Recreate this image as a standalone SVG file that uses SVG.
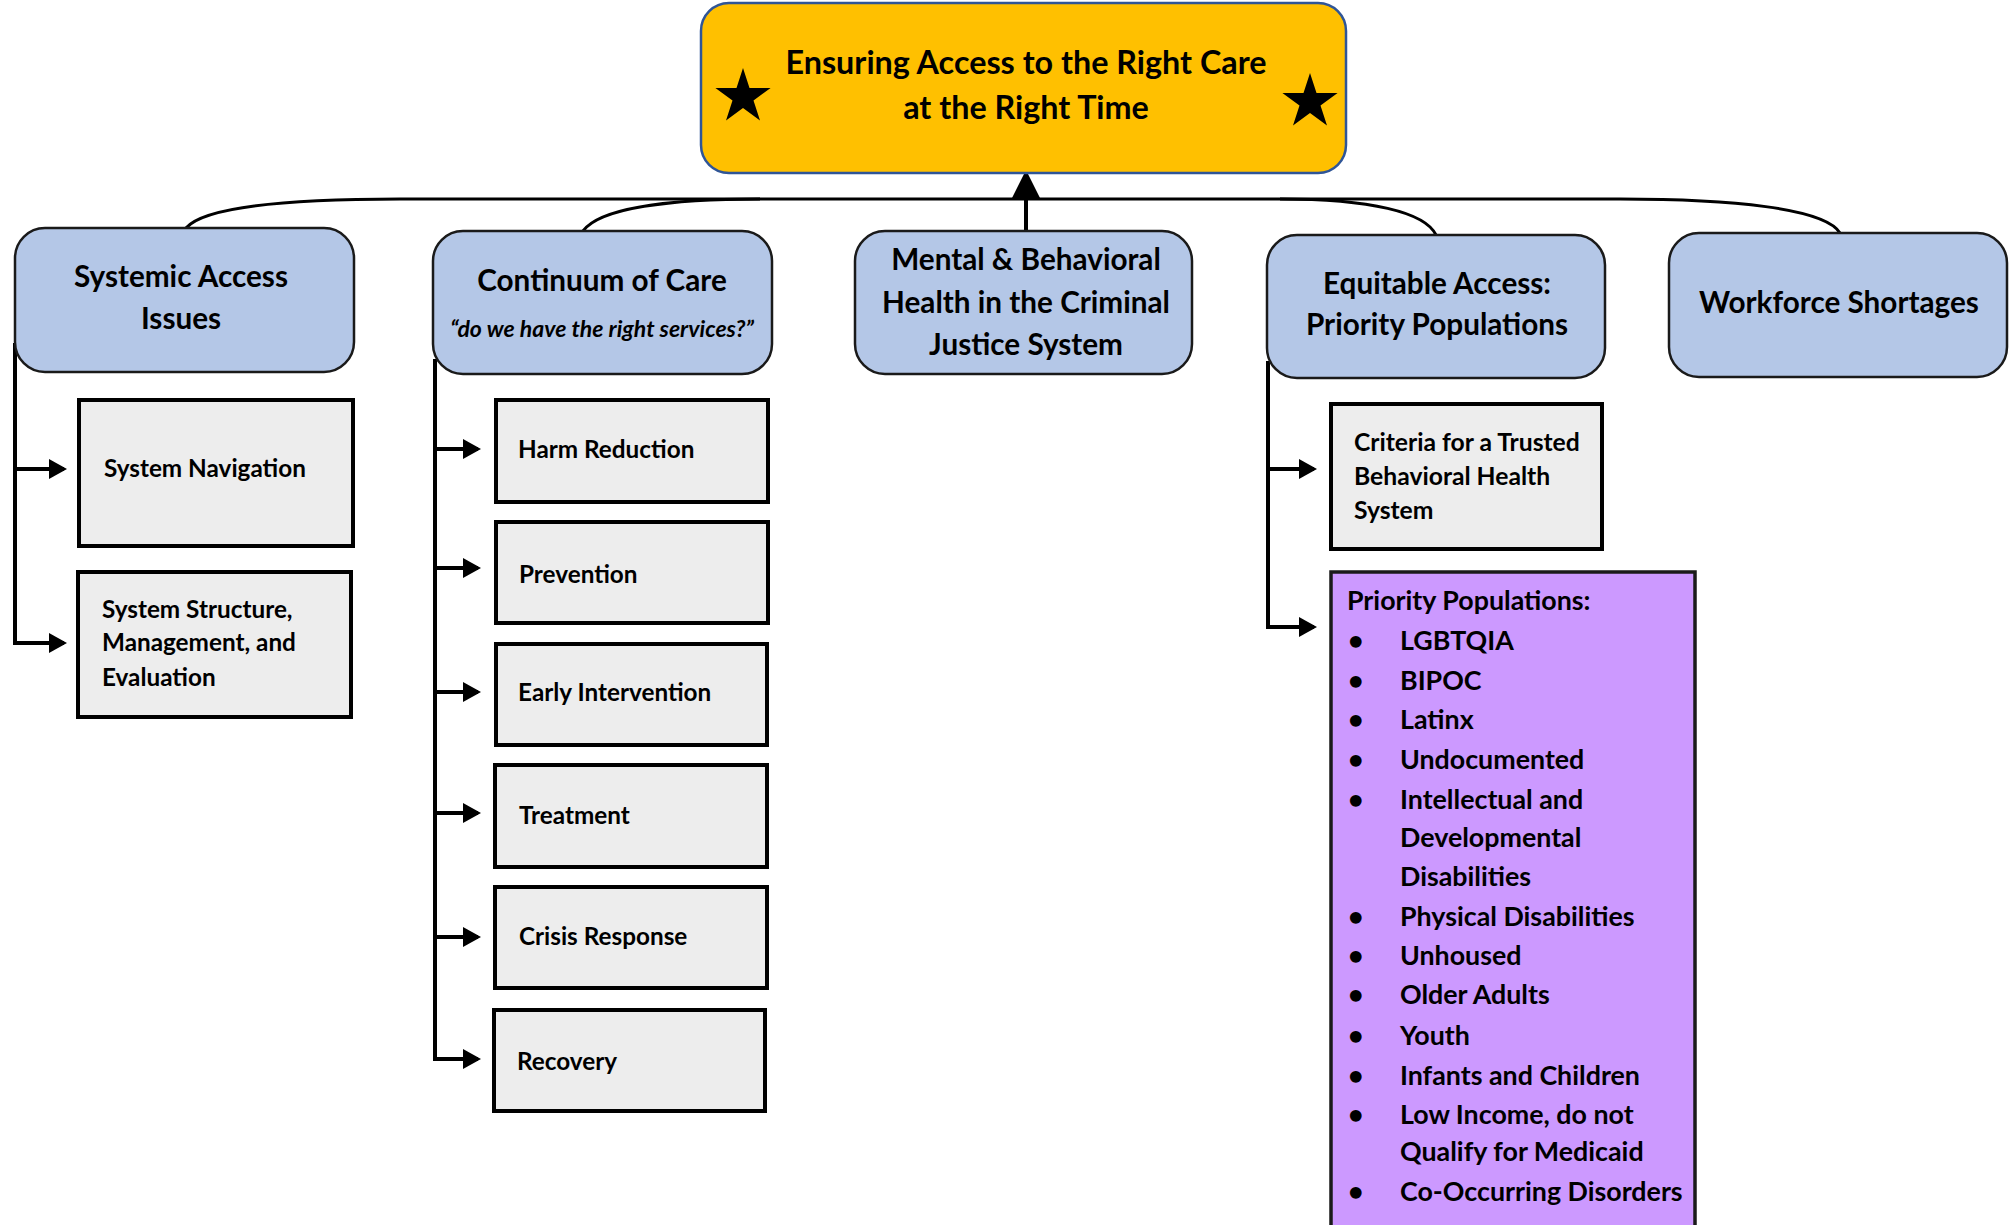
<svg xmlns="http://www.w3.org/2000/svg" width="2010" height="1225" viewBox="0 0 2010 1225">
<defs>
<style>
.t{font-family:Lato,"Liberation Sans",sans-serif;font-weight:bold;fill:#000}
.title{font-size:32.3px;text-anchor:middle}
.head{font-size:29.7px;text-anchor:middle}
.sub{font-size:23px;font-style:italic;text-anchor:middle}
.item{font-size:24.3px}
.crit{font-size:24.7px}
.pp{font-size:26.8px}
.l2{fill:#B4C7E7;stroke:#1a1a1a;stroke-width:2.5}
.box{fill:#EDEDED;stroke:#000;stroke-width:4}
.purple{fill:#CC99FF;stroke:#1a1a1a;stroke-width:3.5}
.conn{fill:none;stroke:#000;stroke-width:3}
.br{fill:none;stroke:#000;stroke-width:4}
</style>
<marker id="ah" markerUnits="userSpaceOnUse" markerWidth="18" markerHeight="20" refX="15" refY="10" orient="auto">
<path d="M0,0 L18,10 L0,20 z" fill="#000"/>
</marker>
<marker id="ahTop" markerUnits="userSpaceOnUse" markerWidth="28" markerHeight="30" refX="24" refY="14" orient="auto">
<path d="M0,0 L28,14 L0,28 z" fill="#000"/>
</marker>
<path id="star" d="M0,-29 L6.5,-9 L27.6,-9 L10.5,3.4 L17,23.5 L0,11.1 L-17,23.5 L-10.5,3.4 L-27.6,-9 L-6.5,-9 z"/>
</defs>
<rect width="2010" height="1225" fill="#fff"/>

<g id="connectors">
<path class="conn" d="M186,228 C205,206 290,199 400,199 L1620,199 C1730,199 1825,208 1840,233"/>
<path class="conn" d="M583,231 C600,208 670,199 760,199"/>
<path class="conn" d="M1280,199 C1370,199 1425,212 1436,235"/>
<path class="br" d="M1026,231 L1026,174" marker-end="url(#ahTop)"/>
<path class="br" d="M15,343 L15,643 L64,643" marker-end="url(#ah)"/>
<path class="br" d="M15,469 L64,469" marker-end="url(#ah)"/>
<path class="br" d="M435,359 L435,1059 L478,1059" marker-end="url(#ah)"/>
<path class="br" d="M435,449 L478,449" marker-end="url(#ah)"/>
<path class="br" d="M435,568 L478,568" marker-end="url(#ah)"/>
<path class="br" d="M435,692 L478,692" marker-end="url(#ah)"/>
<path class="br" d="M435,813 L478,813" marker-end="url(#ah)"/>
<path class="br" d="M435,937 L478,937" marker-end="url(#ah)"/>
<path class="br" d="M1268,361 L1268,627 L1314,627" marker-end="url(#ah)"/>
<path class="br" d="M1268,469 L1314,469" marker-end="url(#ah)"/>
</g>

<g id="title">
<rect x="701" y="3" width="645" height="170" rx="28" fill="#FFC000" stroke="#2F5597" stroke-width="2.5"/>
<use href="#star" x="743" y="97" fill="#000"/>
<use href="#star" x="1310" y="102" fill="#000"/>
<text class="t title" x="1026" y="74">Ensuring Access to the Right Care</text>
<text class="t title" x="1026" y="119">at the Right Time</text>
</g>

<g id="systemic-access">
<rect class="l2" x="15" y="228" width="339" height="144" rx="30"/>
<text class="t head" x="181" y="287">Systemic Access</text>
<text class="t head" x="181" y="329">Issues</text>
</g>

<g id="continuum">
<rect class="l2" x="433" y="231" width="339" height="143" rx="30"/>
<text class="t head" x="602" y="291">Continuum of Care</text>
<text class="t sub" x="602" y="337">“do we have the right services?”</text>
</g>

<g id="criminal-justice">
<rect class="l2" x="855" y="231" width="337" height="143" rx="30"/>
<text class="t head" x="1026" y="270">Mental &amp; Behavioral</text>
<text class="t head" x="1026" y="313">Health in the Criminal</text>
<text class="t head" x="1026" y="355">Justice System</text>
</g>

<g id="equitable-access">
<rect class="l2" x="1267" y="235" width="338" height="143" rx="30"/>
<text class="t head" x="1437" y="294">Equitable Access:</text>
<text class="t head" x="1437" y="335">Priority Populations</text>
</g>

<g id="workforce">
<rect class="l2" x="1669" y="233" width="338" height="144" rx="30"/>
<text class="t head" x="1839" y="313">Workforce Shortages</text>
</g>

<g id="system-navigation">
<rect class="box" x="79" y="400" width="274" height="146"/>
<text class="t item" x="104" y="477">System Navigation</text>
</g>

<g id="system-structure">
<rect class="box" x="78" y="572" width="273" height="145"/>
<text class="t item" x="102" y="618">System Structure,</text>
<text class="t item" x="102" y="651">Management, and</text>
<text class="t item" x="102" y="686">Evaluation</text>
</g>

<g id="harm-reduction">
<rect class="box" x="496" y="400" width="272" height="102"/>
<text class="t item" x="518" y="458">Harm Reduction</text>
</g>

<g id="prevention">
<rect class="box" x="496" y="522" width="272" height="101"/>
<text class="t item" x="519" y="583">Prevention</text>
</g>

<g id="early-intervention">
<rect class="box" x="496" y="644" width="271" height="101"/>
<text class="t item" x="518" y="701">Early Intervention</text>
</g>

<g id="treatment">
<rect class="box" x="495" y="765" width="272" height="102"/>
<text class="t item" x="519" y="824">Treatment</text>
</g>

<g id="crisis-response">
<rect class="box" x="495" y="887" width="272" height="101"/>
<text class="t item" x="519" y="945">Crisis Response</text>
</g>

<g id="recovery">
<rect class="box" x="494" y="1010" width="271" height="101"/>
<text class="t item" x="517" y="1070">Recovery</text>
</g>

<g id="criteria">
<rect class="box" x="1331" y="404" width="271" height="145"/>
<text class="t crit" x="1354" y="451">Criteria for a Trusted</text>
<text class="t crit" x="1354" y="485">Behavioral Health</text>
<text class="t crit" x="1354" y="519">System</text>
</g>

<g id="priority-populations">
<rect class="purple" x="1331" y="572" width="364" height="660"/>
<text class="t pp" x="1347" y="610">Priority Populations:</text>
<g class="t pp">
<text x="1348" y="650">•</text><text x="1400" y="650">LGBTQIA</text>
<text x="1348" y="690">•</text><text x="1400" y="690">BIPOC</text>
<text x="1348" y="729">•</text><text x="1400" y="729">Latinx</text>
<text x="1348" y="769">•</text><text x="1400" y="769">Undocumented</text>
<text x="1348" y="809">•</text><text x="1400" y="809">Intellectual and</text>
<text x="1400" y="847">Developmental</text>
<text x="1400" y="886">Disabilities</text>
<text x="1348" y="926">•</text><text x="1400" y="926">Physical Disabilities</text>
<text x="1348" y="965">•</text><text x="1400" y="965">Unhoused</text>
<text x="1348" y="1004">•</text><text x="1400" y="1004">Older Adults</text>
<text x="1348" y="1045">•</text><text x="1400" y="1045">Youth</text>
<text x="1348" y="1085">•</text><text x="1400" y="1085">Infants and Children</text>
<text x="1348" y="1124">•</text><text x="1400" y="1124">Low Income, do not</text>
<text x="1400" y="1161">Qualify for Medicaid</text>
<text x="1348" y="1201">•</text><text x="1400" y="1201">Co-Occurring Disorders</text>
</g>
</g>
</svg>
